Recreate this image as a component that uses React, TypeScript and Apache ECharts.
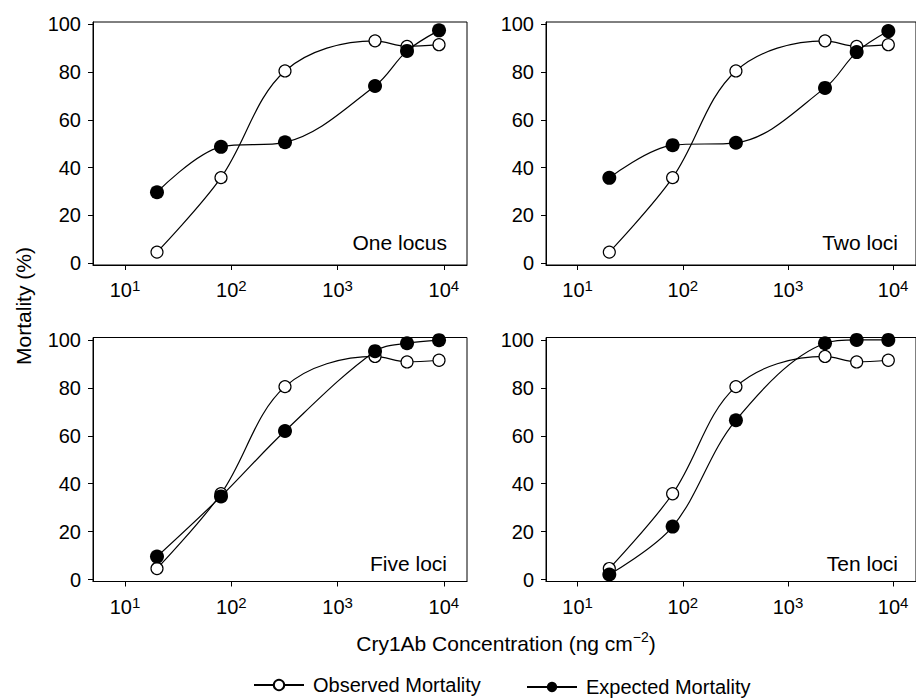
import React, { useEffect, useRef } from "react";
import * as echarts from "echarts";

// ---- data ----
const concentrations = [20, 80, 320, 2250, 4500, 9000];
const observed = [4.6, 35.8, 80.5, 93.1, 90.8, 91.5];
const expectedOne = [29.7, 48.7, 50.6, 74.2, 88.9, 97.5];
const expectedTwo = [35.7, 49.4, 50.4, 73.4, 88.4, 97.2];
const expectedFive = [9.6, 34.7, 62.0, 95.3, 98.6, 99.9];
const expectedTen = [2.1, 22.1, 66.5, 98.6, 100, 100];
const panelLabels = ["One locus", "Two loci", "Five loci", "Ten loci"];
const yTicks = [0, 20, 40, 60, 80, 100];
const observedName = "Observed Mortality";
const expectedName = "Expected Mortality";
const yTitle = "Mortality (%)";

const FONT = "'Liberation Sans', Arial, Helvetica, sans-serif";

export default function App() {
  const ref = useRef<HTMLDivElement>(null);

  useEffect(() => {
    document.body.style.margin = "0";
    if (!ref.current) return;
    const chart = echarts.init(ref.current, null, { renderer: "svg" });

    const expectedSets = [expectedOne, expectedTwo, expectedFive, expectedTen];
    const grids = [
      { left: 93, top: 22, width: 374, height: 243 },
      { left: 546, top: 22, width: 374, height: 243 },
      { left: 93, top: 337.5, width: 374, height: 244 },
      { left: 546, top: 337.5, width: 374, height: 244 },
    ];
    const labelPos = [
      [447, 242],
      [898, 242],
      [447, 563],
      [898, 563],
    ];

    const xFormatter = (v: number) => {
      const l = Math.log10(v);
      if (Math.abs(l - Math.round(l)) > 1e-6) return "";
      return `{b|10}{s|${Math.round(l)}}`;
    };

    const legendText = {
      fontSize: 20,
      fontFamily: FONT,
      color: "#000",
      lineHeight: 20,
      padding: [0, 0, 0, 4],
    };

    const option: any = {
      animation: false,
      backgroundColor: "#fff",
      textStyle: { fontFamily: FONT, color: "#000" },
      grid: grids.map((g) => ({
        ...g,
        show: true,
        borderColor: "#000",
        borderWidth: 1,
        backgroundColor: "transparent",
        containLabel: false,
      })),
      xAxis: grids.map((_, i) => ({
        type: "log",
        logBase: 10,
        gridIndex: i,
        min: 5,
        max: 16500,
        axisLine: { onZero: false, lineStyle: { color: "#000", width: 1 } },
        axisTick: { show: true, length: 5, lineStyle: { color: "#000" } },
        minorTick: { show: false },
        splitLine: { show: false },
        axisLabel: {
          formatter: xFormatter,
          margin: 13,
          showMinLabel: false,
          showMaxLabel: false,
          rich: {
            b: { fontSize: 20, fontFamily: FONT, color: "#000", lineHeight: 24 },
            s: { fontSize: 15, fontFamily: FONT, color: "#000", lineHeight: 12, verticalAlign: "top" },
          },
        },
      })),
      yAxis: grids.map((_, i) => ({
        type: "value",
        gridIndex: i,
        min: -0.8,
        max: 101,
        axisLine: { show: true, onZero: false, lineStyle: { color: "#000", width: 1 } },
        axisTick: { show: true, length: 5, lineStyle: { color: "#000" }, customValues: yTicks },
        splitLine: { show: false },
        axisLabel: {
          customValues: yTicks,
          fontSize: 20,
          fontFamily: FONT,
          color: "#000",
          margin: 12,
        },
      })),
      legend: [
        {
          data: [observedName],
          left: 253,
          top: 675,
          padding: 0,
          itemWidth: 50,
          itemHeight: 13,
          selectedMode: false,
          textStyle: legendText,
        },
        {
          data: [expectedName],
          left: 526,
          top: 677,
          padding: 0,
          itemWidth: 50,
          itemHeight: 13,
          selectedMode: false,
          textStyle: legendText,
        },
      ],
      series: [] as any[],
      graphic: [] as any[],
    };

    grids.forEach((_, i) => {
      option.series.push({
        type: "line",
        name: observedName,
        xAxisIndex: i,
        yAxisIndex: i,
        data: concentrations.map((c, j) => [c, observed[j]]),
        smooth: 0.35,
        symbol: "circle",
        symbolSize: 12,
        clip: false,
        silent: true,
        z: 2,
        lineStyle: { color: "#000", width: 1.2 },
        itemStyle: { color: "#fff", borderColor: "#000", borderWidth: 1.2 },
        emphasis: { disabled: true },
      });
      option.series.push({
        type: "line",
        name: expectedName,
        xAxisIndex: i,
        yAxisIndex: i,
        data: concentrations.map((c, j) => [c, expectedSets[i][j]]),
        smooth: 0.35,
        symbol: "circle",
        symbolSize: 14,
        clip: false,
        silent: true,
        z: 3,
        lineStyle: { color: "#000", width: 1.2 },
        itemStyle: { color: "#000", borderColor: "#000", borderWidth: 0 },
        emphasis: { disabled: true },
      });
      option.graphic.push({
        type: "text",
        x: labelPos[i][0],
        y: labelPos[i][1],
        silent: true,
        style: {
          text: panelLabels[i],
          fontSize: 21,
          fontFamily: FONT,
          fill: "#000",
          align: "right",
          verticalAlign: "middle",
          textAlign: "right",
          textVerticalAlign: "middle",
        },
      });
    });

    option.graphic.push({
      type: "text",
      x: 23,
      y: 306,
      rotation: Math.PI / 2,
      silent: true,
      style: {
        text: yTitle,
        fontSize: 21,
        fontFamily: FONT,
        fill: "#000",
        align: "center",
        verticalAlign: "middle",
        textAlign: "center",
        textVerticalAlign: "middle",
      },
    });

    option.graphic.push({
      type: "text",
      x: 506,
      y: 643,
      silent: true,
      style: {
        text: "{a|Cry1Ab Concentration (ng cm}{s|\u22122}{a|)}",
        fontFamily: FONT,
        fill: "#000",
        align: "center",
        verticalAlign: "middle",
        textAlign: "center",
        textVerticalAlign: "middle",
        rich: {
          a: { fontSize: 21, fontFamily: FONT, fill: "#000", lineHeight: 26 },
          s: { fontSize: 14, fontFamily: FONT, fill: "#000", lineHeight: 12, verticalAlign: "top" },
        },
      },
    });

    chart.setOption(option);
    return () => chart.dispose();
  }, []);

  return <div ref={ref} style={{ width: 916, height: 698 }} />;
}
